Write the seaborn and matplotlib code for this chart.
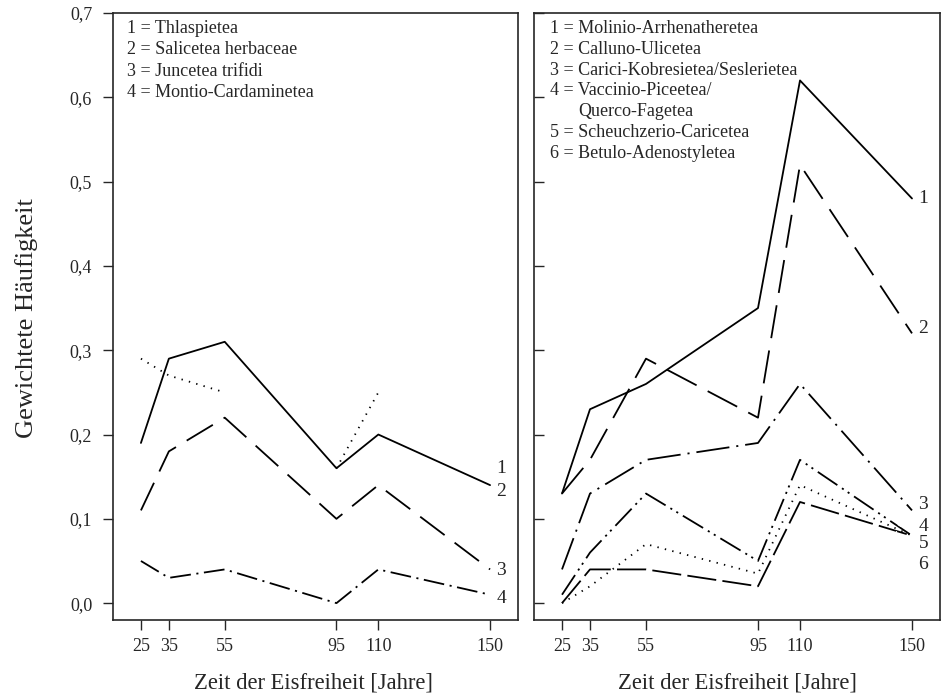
import numpy as np
import pandas as pd
import seaborn as sns
import matplotlib
matplotlib.use('Agg')
import matplotlib.pyplot as plt

# x positions (years since deglaciation) and y ticks
years = [25, 35, 55, 95, 110, 150]
y_ticks = [0.0, 0.1, 0.2, 0.3, 0.4, 0.5, 0.6, 0.7]
y_tick_labels = ['0,0', '0,1', '0,2', '0,3', '0,4', '0,5', '0,6', '0,7']

# left panel
# dotted series is drawn in two pieces (nothing between 55 and 95)
thlaspietea_years = [[25, 35, 55], [95, 110]]
thlaspietea = [[0.29, 0.27, 0.25], [0.16, 0.25]]
salicetea = [0.19, 0.29, 0.31, 0.16, 0.20, 0.14]
juncetea = [0.11, 0.18, 0.22, 0.10, 0.14, 0.04]
montio = [0.05, 0.03, 0.04, 0.00, 0.04, 0.01]
left_names = ['1 = Thlaspietea', '2 = Salicetea herbaceae',
              '3 = Juncetea trifidi', '4 = Montio-Cardaminetea']

# right panel
molinio = [0.13, 0.23, 0.26, 0.35, 0.62, 0.48]
calluno = [0.13, 0.17, 0.29, 0.22, 0.52, 0.32]
carici = [0.04, 0.13, 0.17, 0.19, 0.26, 0.11]
vaccinio = [0.01, 0.06, 0.13, 0.05, 0.17, 0.08]
scheuchzerio = [0.00, 0.04, 0.04, 0.02, 0.12, 0.08]
betulo = [0.00, 0.02, 0.07, 0.035, 0.14, 0.08]
right_names = ['1 = Molinio-Arrhenatheretea', '2 = Calluno-Ulicetea',
               '3 = Carici-Kobresietea/Seslerietea', '4 = Vaccinio-Piceetea/',
               'Querco-Fagetea', '5 = Scheuchzerio-Caricetea',
               '6 = Betulo-Adenostyletea']

sns.set_style('ticks')
plt.rcParams['font.family'] = ['Liberation Serif', 'DejaVu Serif']
plt.rcParams['lines.scale_dashes'] = False

fig = plt.figure(figsize=(9.46, 6.96), dpi=100)
ax1 = fig.add_axes([113 / 946, 76 / 696, 405 / 946, 607 / 696])
ax2 = fig.add_axes([534 / 946, 76 / 696, 406 / 946, 607 / 696])


def draw(ax, xs, vals, dashes, lw=1.3):
    df = pd.DataFrame({'x': xs, 'y': vals})
    n0 = len(ax.lines)
    sns.lineplot(data=df, x='x', y='y', ax=ax, color='black',
                 linewidth=lw, estimator=None, sort=False)
    for ln in ax.lines[n0:]:
        if dashes:
            ln.set_dashes(dashes)


for xs, vals in zip(thlaspietea_years, thlaspietea):
    draw(ax1, xs, vals, [1.0, 4.5])
draw(ax1, years, salicetea, None)
draw(ax1, years, juncetea, [22, 9])
draw(ax1, years, montio, [15, 4, 1.5, 4])

draw(ax2, years, molinio, None)
draw(ax2, years, calluno, [24, 9])
draw(ax2, years, carici, [24, 5, 1.5, 5])
draw(ax2, years, vaccinio, [17, 4, 1.5, 3.5, 1.5, 4])
draw(ax2, years, scheuchzerio, [21, 4.5])
draw(ax2, years, betulo, [1.0, 4.5])

for ax in (ax1, ax2):
    ax.set_xlim(15, 160)
    ax.set_ylim(-0.02, 0.7)
    ax.set_xticks(years)
    ax.set_xticklabels([str(y) for y in years], fontsize=13)
    ax.set_yticks(y_ticks)
    ax.set_xlabel('')
    ax.set_ylabel('')
    for s in ax.spines.values():
        s.set_visible(True)
        s.set_linewidth(1.2)
    ax.tick_params(axis='x', direction='out', length=7, width=1, pad=6)

ax1.set_yticklabels(y_tick_labels, fontsize=13)
ax1.tick_params(axis='y', direction='out', length=7, width=1, pad=8)
ax2.set_yticklabels([])
ax2.tick_params(axis='y', direction='in', length=7, width=1)

# legend-like text blocks
for i, t in enumerate(left_names):
    ax1.text(0.035, 0.975 - i * 0.0355, t, transform=ax1.transAxes,
             fontsize=13, va='center', ha='left')
for i, t in enumerate(right_names):
    x = 0.108 if t.startswith('Querco') else 0.039
    ax2.text(x, 0.975 - i * 0.0345, t, transform=ax2.transAxes,
             fontsize=13, va='center', ha='left')

# line numbers at the right end
for lab, yv in zip(['1', '2', '3', '4'], [0.16, 0.132, 0.039, 0.005]):
    ax1.text(154, yv, lab, fontsize=14, ha='center', va='center')
for lab, yv in zip(['1', '2', '3', '6'], [0.48, 0.326, 0.117, 0.046]):
    ax2.text(154, yv, lab, fontsize=14, ha='center', va='center')
ax2.annotate('4', xy=(145, 0.093), xytext=(154, 0.091), fontsize=14,
             ha='center', va='center',
             arrowprops=dict(arrowstyle='-', lw=0.8, shrinkA=1, shrinkB=0,
                             connectionstyle='angle,angleA=0,angleB=-30,rad=0'))
ax2.annotate('5', xy=(144.5, 0.085), xytext=(154, 0.071), fontsize=14,
             ha='center', va='center',
             arrowprops=dict(arrowstyle='-', lw=0.8, shrinkA=1, shrinkB=0,
                             connectionstyle='angle,angleA=0,angleB=60,rad=0'))

fig.text(313 / 946, 1 - 683 / 696, 'Zeit der Eisfreiheit [Jahre]',
         fontsize=16.3, ha='center', va='center')
fig.text(737 / 946, 1 - 683 / 696, 'Zeit der Eisfreiheit [Jahre]',
         fontsize=16.3, ha='center', va='center')
fig.text(27 / 946, 1 - 318 / 696, 'Gewichtete Häufigkeit', fontsize=19,
         rotation=90, ha='center', va='center')

fig.savefig('out.png', dpi=100)
